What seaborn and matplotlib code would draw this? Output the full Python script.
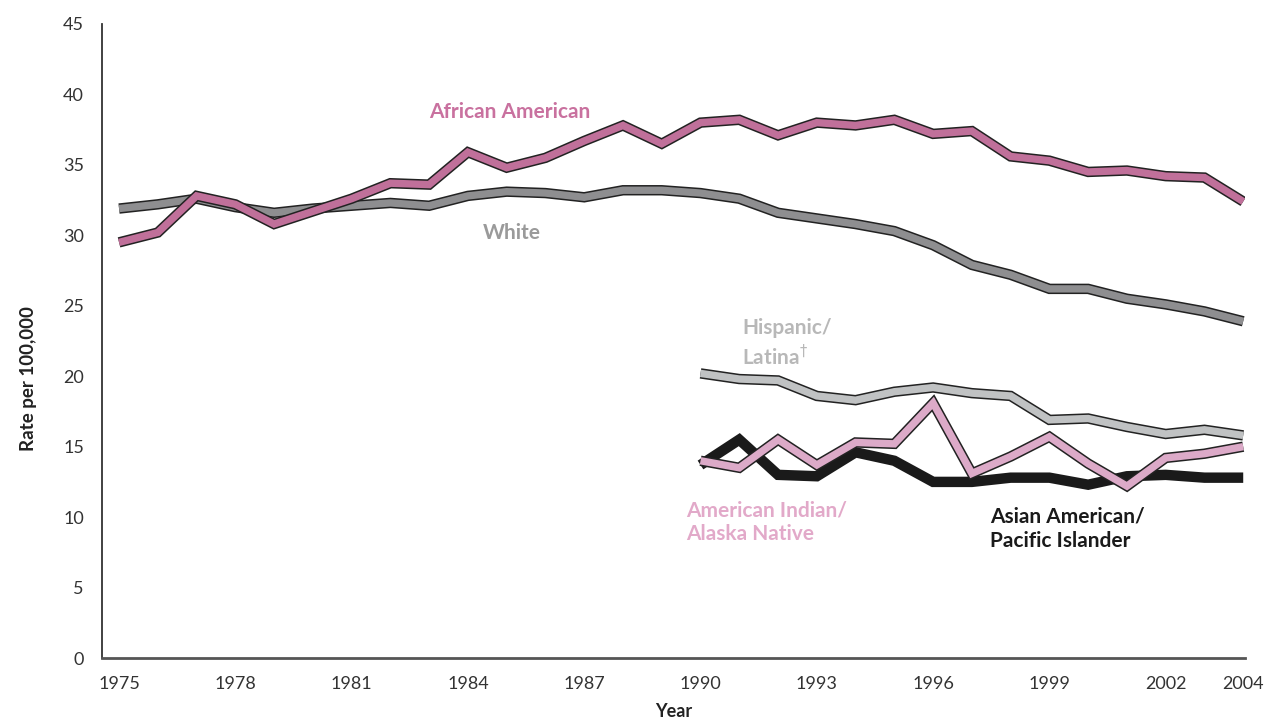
import seaborn as sns
import matplotlib.pyplot as plt
import matplotlib.patheffects as pe

# Data
years_all = list(range(1975, 2005))
years_recent = list(range(1990, 2005))

african_american = [29.5, 30.2, 32.8, 32.2, 30.8, 31.7, 32.6, 33.7, 33.6, 35.9,
                    34.8, 35.5, 36.7, 37.8, 36.5, 38.0, 38.2, 37.1, 38.0, 37.8,
                    38.2, 37.2, 37.4, 35.6, 35.3, 34.5, 34.6, 34.2, 34.1, 32.4]
white = [31.9, 32.2, 32.6, 32.0, 31.6, 31.9, 32.1, 32.3, 32.1, 32.8,
         33.1, 33.0, 32.7, 33.2, 33.2, 33.0, 32.6, 31.6, 31.2, 30.8,
         30.3, 29.3, 27.9, 27.2, 26.2, 26.2, 25.5, 25.1, 24.6, 23.9]
hispanic = [20.2, 19.8, 19.7, 18.6, 18.3, 18.9, 19.2, 18.8, 18.6, 16.9,
            17.0, 16.4, 15.9, 16.2, 15.8]
american_indian = [14.0, 13.5, 15.5, 13.7, 15.3, 15.2, 18.1, 13.1, 14.3, 15.7,
                   13.8, 12.2, 14.2, 14.5, 15.0]
asian_american = [13.7, 15.5, 13.0, 12.9, 14.6, 14.0, 12.5, 12.5, 12.8, 12.8,
                   12.3, 12.9, 13.0, 12.8, 12.8]

sns.set_style("white")
plt.rcParams['font.family'] = ['Lato', 'DejaVu Sans']

fig = plt.figure(figsize=(12.78, 7.25), dpi=100)
ax = fig.add_axes([0.0798, 0.0924, 0.8945, 0.8745])


def outlined(fill, edge="#222222"):
    return [pe.Stroke(linewidth=7.5, foreground=edge, capstyle="butt", joinstyle="miter"),
            pe.Stroke(linewidth=5.3, foreground=fill, capstyle="butt", joinstyle="miter")]


# Outlined lines
sns.lineplot(x=years_all, y=white, ax=ax, color="#8e8e90", lw=5.3,
             path_effects=outlined("#8e8e90"))
sns.lineplot(x=years_all, y=african_american, ax=ax, color="#c0709a", lw=5.3,
             path_effects=outlined("#c0709a"))
sns.lineplot(x=years_recent, y=hispanic, ax=ax, color="#c0c2c3", lw=5.3,
             path_effects=outlined("#c0c2c3"))
sns.lineplot(x=years_recent, y=asian_american, ax=ax, color="#1a1a1a", lw=7.5,
             solid_capstyle="butt", solid_joinstyle="miter")
sns.lineplot(x=years_recent, y=american_indian, ax=ax, color="#dcaac8", lw=5.3,
             path_effects=outlined("#dcaac8"))

# Series labels
lab = dict(fontsize=15, fontweight="bold")
ax.text(1985.07, 38.75, "African American", color="#c9719f", ha="center", va="center", **lab)
ax.text(1985.12, 30.2, "White", color="#9a9a9a", ha="center", va="center", **lab)
ax.text(1991.07, 24.1, "Hispanic/\nLatina$^{\\dagger}$", color="#b8b8b8", ha="left", va="top",
        linespacing=1.25, **lab)
ax.text(1989.63, 11.2, "American Indian/\nAlaska Native", color="#e2a9c9", ha="left", va="top",
        linespacing=1.25, **lab)
ax.text(1997.48, 10.75, "Asian American/\nPacific Islander", color="#1a1a1a", ha="left", va="top",
        linespacing=1.25, **lab)

# Axes styling
ax.set_xlim(1974.56, 2004.05)
ax.set_ylim(0, 45)
ax.set_xticks([1975, 1978, 1981, 1984, 1987, 1990, 1993, 1996, 1999, 2002, 2004])
ax.set_yticks(range(0, 50, 5))
ax.tick_params(axis="y", direction="in", length=14, width=1.2, color="#333333",
               pad=13, labelsize=13, labelcolor="#333333")
ax.tick_params(axis="x", direction="in", length=13, width=1.2, color="#333333",
               pad=13, labelsize=13, labelcolor="#333333")
for s in ["top", "right"]:
    ax.spines[s].set_visible(False)
ax.spines["left"].set_color("#333333")
ax.spines["left"].set_linewidth(1.3)
ax.spines["bottom"].set_color("#555555")
ax.spines["bottom"].set_linewidth(2)

ax.set_xlabel("Year", fontsize=13, fontweight="bold", color="#222222", labelpad=8)
ax.set_ylabel("Rate per 100,000", fontsize=13.5, fontweight="bold", color="#222222")
ax.yaxis.set_label_coords(-0.057, 0.44)

fig.savefig("out.png", dpi=100)
